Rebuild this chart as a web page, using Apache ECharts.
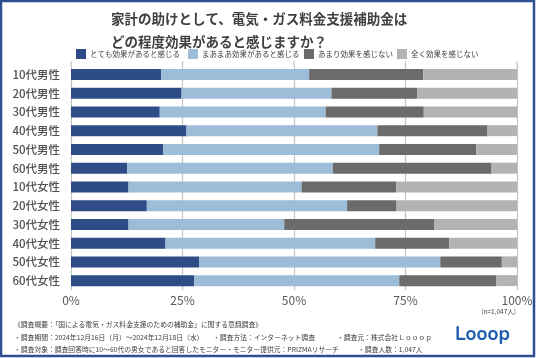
<!DOCTYPE html>
<html><head><meta charset="utf-8">
<script src="https://cdn.jsdelivr.net/npm/echarts@6/dist/echarts.min.js"></script>
<style>html,body{margin:0;padding:0;background:#fff}#c{width:536px;height:358px}</style>
</head><body><div id="c"></div>
<script>
const categories = ['10代男性','20代男性','30代男性','40代男性','50代男性','60代男性','10代女性','20代女性','30代女性','40代女性','50代女性','60代女性'];
const seriesNames = ['とても効果があると感じる','まあまあ効果があると感じる','あまり効果を感じない','全く効果を感じない'];
const veryEffective   = [20.2, 24.8, 19.9, 25.9, 20.7, 12.6, 12.9, 17.0, 12.9, 21.2, 28.7, 27.6];
const somewhat        = [33.2, 33.6, 37.2, 42.8, 48.4, 46.1, 38.8, 44.9, 34.9, 47.0, 54.1, 46.0];
const notMuch         = [25.6, 19.2, 22.0, 24.7, 21.8, 35.6, 21.2, 11.1, 33.7, 16.6, 13.8, 21.8];
const notAtAll        = [21.0, 22.4, 20.9,  6.6,  9.1,  5.7, 27.1, 27.0, 18.5, 15.2,  3.4,  4.6];
const xTicks = [0, 25, 50, 75, 100];

const colors = ['#2e4c86','#9dbcd8','#6b6b6b','#b3b3b3'];
const font = '"Noto Sans CJK JP", "Noto Sans", sans-serif';
const data = [veryEffective, somewhat, notMuch, notAtAll];
const legendLeft = [76, 188, 304, 397];

const chart = echarts.init(document.getElementById('c'), null, {renderer:'canvas'});
chart.setOption({
  animation:false,
  textStyle:{fontFamily:font},
  color: colors,
  title:{
    text:'家計の助けとして、電気・ガス料金支援補助金は\nどの程度効果があると感じますか？',
    left:106, top:2,
    textStyle:{fontSize:13.5, fontWeight:'bold', color:'#404040', lineHeight:23, fontFamily:font}
  },
  legend: seriesNames.map((n,i)=>({
    left:legendLeft[i], top:49, itemWidth:10, itemHeight:10, itemGap:4, padding:0,
    icon:'rect',
    textStyle:{fontSize:7.5, color:'#404040', padding:[0,0,0,-1]},
    data:[n]
  })),
  grid:{left:71, right:19, top:65, bottom:68, containLabel:false},
  xAxis:{
    type:'value', min:0, max:100, interval:25,
    axisLabel:{formatter:v=>v+'%', fontSize:12, color:'#595959', margin:4},
    splitLine:{lineStyle:{color:'#c4c4c4', width:1.2}},
    axisLine:{show:false}, axisTick:{show:false}
  },
  yAxis:{
    type:'category', data:categories, inverse:true,
    axisLabel:{fontSize:11.5, color:'#505050', margin:11, fontWeight:500},
    axisLine:{show:false}, axisTick:{show:false}
  },
  series: seriesNames.map((n,i)=>({
    name:n, type:'bar', stack:'t', barWidth:11, data:data[i],
    itemStyle:{color:colors[i]}
  })),
  graphic:[
    {type:'line', shape:{x1:71,y1:61,x2:71,y2:65}, style:{stroke:'#c4c4c4', lineWidth:1.2}},
    {type:'line', shape:{x1:182.5,y1:61,x2:182.5,y2:65}, style:{stroke:'#c4c4c4', lineWidth:1.2}},
    {type:'line', shape:{x1:294,y1:61,x2:294,y2:65}, style:{stroke:'#c4c4c4', lineWidth:1.2}},
    {type:'line', shape:{x1:405.5,y1:61,x2:405.5,y2:65}, style:{stroke:'#c4c4c4', lineWidth:1.2}},
    {type:'line', shape:{x1:517,y1:61,x2:517,y2:65}, style:{stroke:'#c4c4c4', lineWidth:1.2}},
    {type:'rect', shape:{x:1,y:1,width:533,height:355}, style:{fill:'none', stroke:'#2e5090', lineWidth:2.5}, z:100},
    {type:'text', right:20, top:308, style:{text:'(n=1,047人)', fontSize:6.5, fill:'#404040', fontFamily:font}},
    {type:'text', left:14, top:321, style:{text:'《調査概要：「国による電気・ガス料金支援のための補助金」に関する意識調査》', fontSize:6.8, fill:'#404040', fontFamily:font}},
    {type:'text', left:14, top:334, style:{text:'・調査期間：2024年12月16日（月）～2024年12月18日（水）', fontSize:6.8, fill:'#404040', fontFamily:font}},
    {type:'text', left:213, top:334, style:{text:'・調査方法：インターネット調査', fontSize:6.8, fill:'#404040', fontFamily:font}},
    {type:'text', left:337, top:334, style:{text:'・調査元：株式会社Ｌｏｏｏｐ', fontSize:6.8, fill:'#404040', fontFamily:font}},
    {type:'text', left:14, top:346, style:{text:'・調査対象：調査回答時に10～60代の男女であると回答したモニター・モニター提供元：PRIZMAリサーチ', fontSize:6.8, fill:'#404040', fontFamily:font}},
    {type:'text', left:358, top:346, style:{text:'・調査人数：1,047人', fontSize:6.8, fill:'#404040', fontFamily:font}},
    {type:'text', left:455, top:326, style:{text:'Looop', fontSize:19, fontWeight:'bold', fill:'#1f5fae', fontFamily:'"Nunito","Open Sans",sans-serif'}}
  ]
});
</script></body></html>
